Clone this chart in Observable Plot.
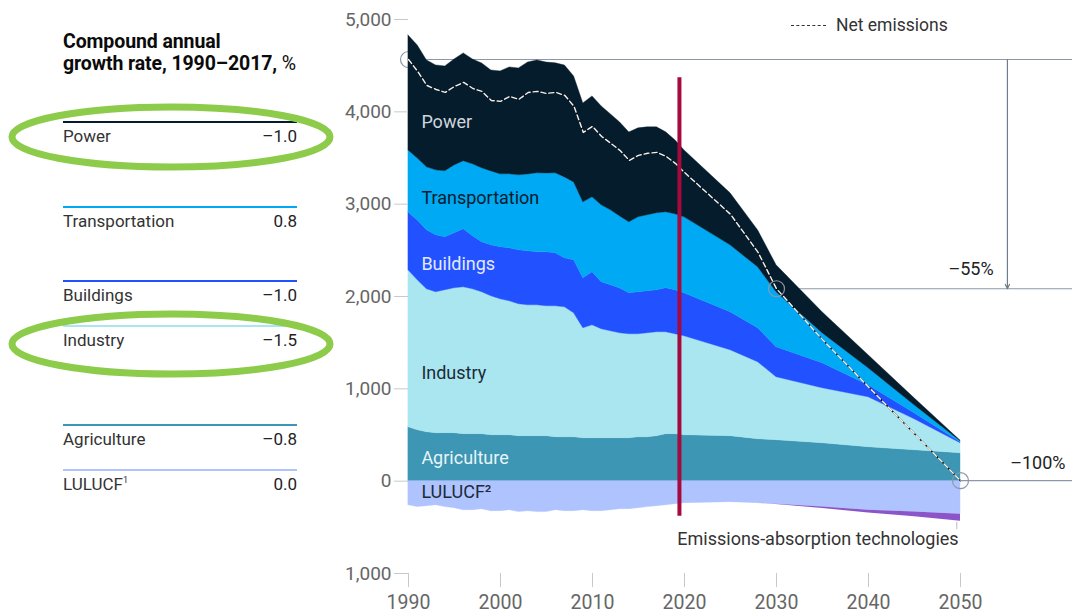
<!DOCTYPE html>
<html>
<head>
<meta charset="utf-8">
<script src="https://cdn.jsdelivr.net/npm/d3@7"></script>
<script src="https://cdn.jsdelivr.net/npm/@observablehq/plot@0.6"></script>
<style>
  body { margin: 0; background: #fff; font-family: Roboto, "Noto Sans", sans-serif; }
  #wrap { position: relative; width: 1072px; height: 614px; overflow: hidden; background: #fff; }
  #chart { position: absolute; left: 0; top: 0; }
  #panel { position: absolute; left: 0; top: 0; width: 344px; height: 614px; background: #fff; }
  .ptitle { position: absolute; left: 63px; top: 31px; font-size: 19.5px; font-weight: 700; line-height: 22px; color: #0b0b0b; letter-spacing: -0.1px; }
  .ptitle span { font-weight: 400; }
  .row { position: absolute; left: 63px; width: 234px; height: 28px; font-size: 17px; color: #333; }
  .row .rline { position: absolute; left: 0; top: 0; width: 234px; height: 2px; }
  .row .name { position: absolute; left: 0; top: 5px; }
  .row .val { position: absolute; right: 0; top: 5px; color: #222; }
  .row sup { font-size: 9px; vertical-align: 7px; }
  #legend { position: absolute; left: 791px; top: 15px; font-size: 17.5px; color: #333; }
  #legend .dash { display: inline-block; width: 35px; border-top: 1.6px dashed #333; vertical-align: 5px; margin-right: 10px; }
  #ovl { position: absolute; left: 0; top: 0; pointer-events: none; }
</style>
</head>
<body>
<div id="wrap">
  <div id="chart"></div>
  <div id="panel"></div>
  <div id="legend"><span class="dash"></span>Net emissions</div>
  <svg id="ovl" width="1072" height="614"></svg>
</div>
<script>
// ---------- data ----------
const years = [1990,1991,1992,1993,1994,1995,1996,1997,1998,1999,
               2000,2001,2002,2003,2004,2005,2006,2007,2008,2009,
               2010,2011,2012,2013,2014,2015,2016,2017,2018,2019,2020,
               2025,2028,2030,2035,2040,2045,2050];
const power = [1245,1223,1158,1136,1136,1147,1169,1136,1136,1093,
               1115,1158,1158,1212,1223,1201,1191,1212,1147,1071,
               1093,1071,1039,1017,974,963,952,931,866,801,725,
               563,400,292,227,141,76,5];
const transportation = [671,671,682,703,714,736,736,779,801,801,
               790,801,812,833,855,855,866,877,844,823,
               812,833,812,779,768,812,823,833,823,823,823,
               725,660,595,325,184,87,11];
const buildings = [628,649,639,617,574,595,628,574,541,552,
               563,574,584,584,574,584,574,530,574,541,
               574,509,498,487,444,455,455,455,476,476,465,
               411,368,325,271,130,65,11];
const industry = [1699,1623,1548,1526,1548,1569,1591,1569,1537,1504,
               1472,1450,1429,1418,1418,1407,1418,1407,1342,1191,
               1223,1180,1158,1136,1126,1115,1126,1126,1104,1082,1071,
               931,833,682,595,541,335,108];
const agriculture = [584,552,530,520,520,520,509,509,509,498,
               498,498,487,487,487,487,476,476,476,465,
               465,465,465,465,465,476,476,487,509,509,498,
               487,455,444,411,368,335,303];
const lulucf = [-260,-281,-271,-260,-281,-292,-314,-314,-303,-325,
               -325,-314,-335,-325,-335,-335,-314,-325,-325,-314,
               -325,-325,-314,-303,-303,-292,-281,-271,-260,-249,-238,
               -227,-238,-249,-281,-314,-335,-357];
const absorption = [0,0,0,0,0,0,0,0,0,0,
               0,0,0,0,0,0,0,0,0,0,
               0,0,0,0,0,0,0,0,0,0,0,
               0,0,-5,-15,-30,-50,-76];

const sectorNames = ["Agriculture","Industry","Buildings","Transportation","Power","LULUCF"];
const sectorColors = ["#3c96b4","#aae6f0","#2251ff","#00a9f4","#051c2c","#afc3ff"];
const sectorSeries = [agriculture, industry, buildings, transportation, power, lulucf];
const absorptionColor = "#8b55c9";

const yTicks = [-1000,0,1000,2000,3000,4000,5000];
const xTicks = [1990,2000,2010,2020,2030,2040,2050];

// left panel table
const cagrNames = ["Power","Transportation","Buildings","Industry","Agriculture","LULUCF"];
const cagrValues = ["–1.0","0.8","–1.0","–1.5","–0.8","0.0"];

// ---------- derived tables ----------
const table = [];
sectorNames.forEach((s, k) => {
  years.forEach((y, i) => table.push({year: y, sector: s, value: sectorSeries[k][i]}));
});
const absTable = years.map((y, i) => ({year: y, top: lulucf[i], bottom: lulucf[i] + absorption[i]}))
  .filter(d => d.year >= 2028);
const net = years.map((y, i) => ({
  year: y,
  net: sectorSeries.reduce((acc, arr) => acc + arr[i], 0) + absorption[i]
}));
const netAt = yr => net.find(d => d.year === yr).net;
const n1990 = netAt(1990), n2030 = netAt(2030), n2050 = netAt(2050);

const grey = "#8c98a8";
const xRight = 2062.2; // right edge of the page in year units

const areaLabels = [
  {t: "Power", x: 1991.4, y: 3885, c: "#cfd6de"},
  {t: "Transportation", x: 1991.4, y: 3063, c: "#051c2c"},
  {t: "Buildings", x: 1991.4, y: 2349, c: "#e3e9ff"},
  {t: "Industry", x: 1991.4, y: 1169, c: "#1c2b38"},
  {t: "Agriculture", x: 1991.4, y: 249, c: "#e8f4f8"},
  {t: "LULUCF²", x: 1991.4, y: -119, c: "#1c2b38"}
];

const chart = Plot.plot({
  width: 1072,
  height: 614,
  marginLeft: 408,
  marginRight: 112,
  marginTop: 19,
  marginBottom: 41,
  style: {fontFamily: "Roboto, sans-serif", background: "transparent", overflow: "visible"},
  x: {domain: [1990, 2050], ticks: xTicks, tickFormat: d => String(d)},
  y: {domain: [-1000, 5000], ticks: yTicks},
  color: {domain: sectorNames, range: sectorColors},
  marks: [
    Plot.ruleY([n1990], {x1: 1990, x2: xRight, stroke: grey, strokeWidth: 1.2}),
    Plot.ruleY([n2030], {x1: 2030, x2: xRight, stroke: grey, strokeWidth: 1.2}),
    Plot.dot([{year: 1990, net: n1990}], {x: "year", y: "net", r: 8, stroke: grey, fill: "white", strokeWidth: 1.2}),
    Plot.areaY(table, Plot.stackY({order: sectorNames}, {
      x: "year", y: "value", z: "sector", fill: "sector", stroke: "sector", strokeWidth: 0.4
    })),
    Plot.areaY(absTable, {x: "year", y1: "top", y2: "bottom", fill: absorptionColor}),
    Plot.line(net, {x: "year", y: "net", stroke: "#111", strokeWidth: 1.4}),
    Plot.line(net, {x: "year", y: "net", stroke: "#f2f2f2", strokeWidth: 1.4, strokeDasharray: "5,3"}),
    Plot.ruleY([n2050], {x1: 2050, x2: xRight, stroke: grey, strokeWidth: 1.2}),
    Plot.dot([{year: 2030, net: n2030}, {year: 2050, net: n2050}], {x: "year", y: "net", r: 8, stroke: grey, fill: "none", strokeWidth: 1.2}),
    Plot.arrow([{x: 2055.1, a: n1990, b: n2030}], {x: "x", y1: "a", y2: "b", stroke: "#6f7c8d", strokeWidth: 1.2, headLength: 6, headAngle: 50}),
    Plot.text([{x: 2053.6, y: 2300}], {x: "x", y: "y", text: () => "–55%", textAnchor: "end", fontSize: 18, fill: "#222"}),
    Plot.text([{x: 2055.4, y: 195}], {x: "x", y: "y", text: () => "–100%", textAnchor: "start", fontSize: 18, fill: "#222"}),
    Plot.text(areaLabels, {x: "x", y: "y", text: "t", fill: "c", textAnchor: "start", fontSize: 18}),
    Plot.ruleX([2049.6], {y1: -445, y2: -525, stroke: "#bbb", strokeWidth: 1}),
    Plot.text([{x: 2049.8, y: -628}], {x: "x", y: "y", text: () => "Emissions-absorption technologies", textAnchor: "end", fontSize: 18, fill: "#333"}),
    Plot.ruleX([2019.45], {y1: 4370, y2: -380, stroke: "#a6093d", strokeWidth: 4}),
    Plot.axisY({ticks: yTicks, tickSize: 14, tickPadding: 3, stroke: "#c9c9c9", fill: "#666", fontSize: 19, tickFormat: d3.format(",")}),
    Plot.axisX({ticks: xTicks, tickSize: 14, tickPadding: 8, stroke: "#c9c9c9", fill: "#666", fontSize: 19.5, tickFormat: d => String(d)})
  ]
});
document.getElementById("chart").appendChild(chart);

// ---------- left panel ----------
const panel = document.getElementById("panel");
const title = document.createElement("div");
title.className = "ptitle";
title.innerHTML = "Compound annual<br>growth rate, 1990–2017, <span>%</span>";
panel.appendChild(title);
const rowTops = [121, 206, 280, 325, 424, 469];
const rowLineColors = ["#051c2c", "#00a9f4", "#2251ff", "#aae6f0", "#3c96b4", "#afc3ff"];
cagrNames.forEach((n, i) => {
  const r = document.createElement("div");
  r.className = "row";
  r.style.top = rowTops[i] + "px";
  r.innerHTML = `<div class="rline" style="background:${rowLineColors[i]}"></div><span class="name">${n}${n === "LULUCF" ? "<sup>1</sup>" : ""}</span><span class="val">${cagrValues[i]}</span>`;
  panel.appendChild(r);
});

// green highlight ellipses
const ovl = d3.select("#ovl");
[[171, 137], [171, 344]].forEach(([cx, cy]) => {
  ovl.append("ellipse").attr("cx", cx).attr("cy", cy).attr("rx", 159).attr("ry", 30)
    .attr("fill", "none").attr("stroke", "#8dcb4a").attr("stroke-width", 7);
});
</script>
</body>
</html>
